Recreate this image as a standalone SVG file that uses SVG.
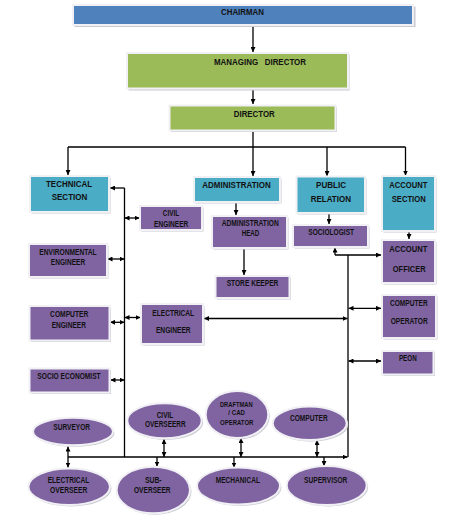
<svg xmlns="http://www.w3.org/2000/svg" width="471" height="521" viewBox="0 0 471 521">
<style>
.sh{fill:#c9c9d2}
.fr{stroke:#f1f1f5;stroke-width:2}
.bl{fill:#4f81bd}
.gr{fill:#9bbb59}
.tq{fill:#4bacc6}
.pu{fill:#8064a2}
text{font-family:"Liberation Sans Narrow","Liberation Sans",Arial,sans-serif;font-weight:bold;text-anchor:middle;fill:#111}
.L{font-size:9.3px}
.S{font-size:8.3px}
.c{fill:none;stroke:#000;stroke-width:1.3}
.a{marker-end:url(#ah)}
.d{marker-start:url(#ah);marker-end:url(#ah)}
</style>
<defs>
<marker id="ah" viewBox="0 0 6 6" refX="6" refY="3" markerWidth="5" markerHeight="5" orient="auto-start-reverse" markerUnits="userSpaceOnUse"><path d="M0,0 L6,3 L0,6z" fill="#000"/></marker>
</defs>
<rect width="471" height="521" fill="#fff"/>

<g id="connectors">
<path class="c a" d="M253,25 V52"/>
<path class="c a" d="M253,89 V104"/>
<path class="c" d="M253,130 V147 M68,147 H405.5"/>
<path class="c a" d="M68,147 V175"/>
<path class="c a" d="M253,147 V176"/>
<path class="c a" d="M327,147 V176"/>
<path class="c a" d="M405.5,147 V175.5"/>
<path class="c a" d="M236,203 V215"/>
<path class="c a" d="M244,248.5 V275"/>
<path class="c a" d="M329,213.5 V224"/>
<path class="c a" d="M409,231.5 V239"/>
<path class="c" d="M124.5,188 V457"/>
<path class="c a" d="M124.5,188 H110"/>
<path class="c d" d="M124.5,218 H139.5"/>
<path class="c d" d="M107.5,259 H124.5"/>
<path class="c d" d="M110,322.3 H124.5"/>
<path class="c d" d="M124.5,317.5 H140.5"/>
<path class="c d" d="M110.5,380 H124.5"/>
<path class="c a" d="M335,255 V247.5"/>
<path class="c a" d="M335,255 H381"/>
<path class="c" d="M348,255 V457"/>
<path class="c d" d="M204,318.5 H347.5"/>
<path class="c d" d="M348.5,308.3 H381"/>
<path class="c d" d="M348.5,361 H381"/>
<path class="c a" d="M68,457 H347.5"/>
<path class="c d" d="M68,446.5 V467.5"/>
<path class="c d" d="M164,439 V457"/>
<path class="c a" d="M157,457 V466.5"/>
<path class="c d" d="M241,438 V457"/>
<path class="c a" d="M234,457 V467.5"/>
<path class="c d" d="M317,440 V457"/>
<path class="c a" d="M324,457 V466"/>
</g>

<g id="chairman">
<rect class="sh" x="74.5" y="6.5" width="341" height="20.5"/>
<rect class="bl fr" x="73" y="5" width="340" height="20"/>
<text class="L" x="242.5" y="15" textLength="43" lengthAdjust="spacingAndGlyphs">CHAIRMAN</text>
</g>
<g id="managing-director">
<rect class="sh" x="128.5" y="54.5" width="221" height="36"/>
<rect class="gr fr" x="127" y="53" width="221" height="35.5"/>
<text class="L" x="260" y="65" textLength="92" lengthAdjust="spacingAndGlyphs">MANAGING&#160;&#160; DIRECTOR</text>
</g>
<g id="director">
<rect class="sh" x="171" y="107" width="166" height="25"/>
<rect class="gr fr" x="169.5" y="105.5" width="166" height="25"/>
<text class="L" x="254.3" y="117" textLength="41" lengthAdjust="spacingAndGlyphs">DIRECTOR</text>
</g>
<g id="technical-section">
<rect class="sh" x="31.5" y="177.5" width="79" height="36"/>
<rect class="tq fr" x="30" y="176" width="79" height="36"/>
<text class="L" x="69" y="187" textLength="46" lengthAdjust="spacingAndGlyphs">TECHNICAL</text>
<text class="L" x="69.5" y="200.3" textLength="35.7" lengthAdjust="spacingAndGlyphs">SECTION</text>
</g>
<g id="administration">
<rect class="sh" x="195.5" y="178.5" width="86" height="25"/>
<rect class="tq fr" x="194" y="177" width="86" height="25"/>
<text class="L" x="236.5" y="188.3" textLength="68.3" lengthAdjust="spacingAndGlyphs">ADMINISTRATION</text>
</g>
<g id="public-relation">
<rect class="sh" x="298" y="178" width="68.5" height="36.5"/>
<rect class="tq fr" x="296.5" y="176.5" width="68.5" height="36.5"/>
<text class="L" x="331" y="188.3" textLength="30" lengthAdjust="spacingAndGlyphs">PUBLIC</text>
<text class="L" x="330.8" y="201.7" textLength="40.3" lengthAdjust="spacingAndGlyphs">RELATION</text>
</g>
<g id="account-section">
<rect class="sh" x="383.5" y="177.5" width="53" height="55"/>
<rect class="tq fr" x="382" y="176" width="53" height="55"/>
<text class="L" x="408.3" y="188.3" textLength="38" lengthAdjust="spacingAndGlyphs">ACCOUNT</text>
<text class="L" x="408.7" y="202.3" textLength="34" lengthAdjust="spacingAndGlyphs">SECTION</text>
</g>
<g id="civil-engineer">
<rect class="sh" x="141.5" y="207.5" width="62" height="24"/>
<rect class="pu fr" x="140" y="206" width="62" height="24"/>
<text class="S" x="171" y="215.7" textLength="16.3" lengthAdjust="spacingAndGlyphs">CIVIL</text>
<text class="S" x="171.2" y="227" textLength="34.3" lengthAdjust="spacingAndGlyphs">ENGINEER</text>
</g>
<g id="administration-head">
<rect class="sh" x="213.5" y="217.5" width="75" height="32"/>
<rect class="pu fr" x="212" y="216" width="75" height="32"/>
<text class="S" x="250.2" y="226" textLength="57" lengthAdjust="spacingAndGlyphs">ADMINISTRATION</text>
<text class="S" x="250.5" y="235.7" textLength="17.7" lengthAdjust="spacingAndGlyphs">HEAD</text>
</g>
<g id="sociologist">
<rect class="sh" x="294.5" y="226.5" width="75" height="22"/>
<rect class="pu fr" x="293" y="225" width="75" height="22"/>
<text class="S" x="331.2" y="235" textLength="45.7" lengthAdjust="spacingAndGlyphs">SOCIOLOGIST</text>
</g>
<g id="account-officer">
<rect class="sh" x="383.5" y="241.5" width="53" height="43"/>
<rect class="pu fr" x="382" y="240" width="53" height="43"/>
<text class="L" x="408.3" y="251.7" textLength="38" lengthAdjust="spacingAndGlyphs">ACCOUNT</text>
<text class="L" x="409.2" y="272.3" textLength="33" lengthAdjust="spacingAndGlyphs">OFFICER</text>
</g>
<g id="environmental-engineer">
<rect class="sh" x="30.5" y="245.5" width="78" height="33"/>
<rect class="pu fr" x="29" y="244" width="78" height="33"/>
<text class="S" x="68" y="255" textLength="57.3" lengthAdjust="spacingAndGlyphs">ENVIRONMENTAL</text>
<text class="S" x="68" y="265.3" textLength="34.3" lengthAdjust="spacingAndGlyphs">ENGINEER</text>
</g>
<g id="store-keeper">
<rect class="sh" x="217" y="277.5" width="74" height="22"/>
<rect class="pu fr" x="215.5" y="276" width="74" height="22"/>
<text class="S" x="252.5" y="286" textLength="51.7" lengthAdjust="spacingAndGlyphs">STORE KEEPER</text>
</g>
<g id="computer-engineer">
<rect class="sh" x="31" y="307.5" width="80" height="34.5"/>
<rect class="pu fr" x="29.5" y="306" width="80" height="34.5"/>
<text class="S" x="69.2" y="317.3" textLength="38.3" lengthAdjust="spacingAndGlyphs">COMPUTER</text>
<text class="S" x="68.8" y="328.3" textLength="34.3" lengthAdjust="spacingAndGlyphs">ENGINEER</text>
</g>
<g id="electrical-engineer">
<rect class="sh" x="142.5" y="305.5" width="62" height="40"/>
<rect class="pu fr" x="141" y="304" width="62" height="40"/>
<text class="S" x="173.2" y="315.7" textLength="41.7" lengthAdjust="spacingAndGlyphs">ELECTRICAL</text>
<text class="S" x="173.3" y="333.3" textLength="34.7" lengthAdjust="spacingAndGlyphs">ENGINEER</text>
</g>
<g id="computer-operator">
<rect class="sh" x="383.5" y="296.5" width="54" height="43"/>
<rect class="pu fr" x="382" y="295" width="54" height="43"/>
<text class="S" x="408.8" y="305.7" textLength="37.7" lengthAdjust="spacingAndGlyphs">COMPUTER</text>
<text class="S" x="409.2" y="324.3" textLength="37" lengthAdjust="spacingAndGlyphs">OPERATOR</text>
</g>
<g id="peon">
<rect class="sh" x="383.5" y="352.5" width="51.5" height="23.5"/>
<rect class="pu fr" x="382" y="351" width="51.5" height="23.5"/>
<text class="S" x="407.8" y="361.3" textLength="17.7" lengthAdjust="spacingAndGlyphs">PEON</text>
</g>
<g id="socio-economist">
<rect class="sh" x="31" y="370" width="80" height="24"/>
<rect class="pu fr" x="29.5" y="368.5" width="80" height="24"/>
<text class="S" x="69" y="379.3" textLength="63.3" lengthAdjust="spacingAndGlyphs">SOCIO ECONOMIST</text>
</g>
<g id="surveyor">
<ellipse class="sh" cx="74.5" cy="433" rx="40" ry="13.8"/>
<ellipse class="pu fr" cx="73" cy="431.5" rx="40" ry="13.8"/>
<text class="S" x="71.7" y="430" textLength="36.7" lengthAdjust="spacingAndGlyphs">SURVEYOR</text>
</g>
<g id="civil-overseerr">
<ellipse class="sh" cx="166" cy="422.3" rx="37.2" ry="17.5"/>
<ellipse class="pu fr" cx="164.5" cy="420.8" rx="37.2" ry="17.5"/>
<text class="S" x="165" y="417.7" textLength="16.7" lengthAdjust="spacingAndGlyphs">CIVIL</text>
<text class="S" x="165.3" y="427.3" textLength="40.7" lengthAdjust="spacingAndGlyphs">OVERSEERR</text>
</g>
<g id="draftman-cad-operator">
<ellipse class="sh" cx="238.5" cy="416" rx="31.3" ry="23.5"/>
<ellipse class="pu fr" cx="237" cy="414.5" rx="31.3" ry="23.5"/>
<text class="S" x="236.3" y="406.7" textLength="32.7" lengthAdjust="spacingAndGlyphs" style="font-size:7.8px">DRAFTMAN</text>
<text class="S" x="236.7" y="415.3" textLength="16.7" lengthAdjust="spacingAndGlyphs" style="font-size:7.8px">/ CAD</text>
<text class="S" x="236.7" y="425.3" textLength="33.3" lengthAdjust="spacingAndGlyphs" style="font-size:7.8px">OPERATOR</text>
</g>
<g id="computer">
<ellipse class="sh" cx="311.2" cy="424.8" rx="37" ry="16.7"/>
<ellipse class="pu fr" cx="309.7" cy="423.3" rx="37" ry="16.7"/>
<text class="S" x="308.8" y="420.7" textLength="37.7" lengthAdjust="spacingAndGlyphs">COMPUTER</text>
</g>
<g id="electrical-overseer">
<ellipse class="sh" cx="70.7" cy="488.2" rx="40.8" ry="18.3"/>
<ellipse class="pu fr" cx="69.2" cy="486.7" rx="40.8" ry="18.3"/>
<text class="S" x="68.5" y="482.7" textLength="41.7" lengthAdjust="spacingAndGlyphs">ELECTRICAL</text>
<text class="S" x="68.7" y="493.3" textLength="37.3" lengthAdjust="spacingAndGlyphs">OVERSEER</text>
</g>
<g id="sub-overseer">
<ellipse class="sh" cx="154.8" cy="491.5" rx="36.7" ry="23.3"/>
<ellipse class="pu fr" cx="153.3" cy="490" rx="36.7" ry="23.3"/>
<text class="S" x="153.3" y="483.3" textLength="16.7" lengthAdjust="spacingAndGlyphs">SUB-</text>
<text class="S" x="152.3" y="493.3" textLength="36.7" lengthAdjust="spacingAndGlyphs">OVERSEER</text>
</g>
<g id="mechanical">
<ellipse class="sh" cx="240" cy="487.5" rx="41.5" ry="18.5"/>
<ellipse class="pu fr" cx="238.5" cy="486" rx="41.5" ry="18.5"/>
<text class="S" x="237.8" y="483" textLength="44.3" lengthAdjust="spacingAndGlyphs">MECHANICAL</text>
</g>
<g id="supervisor">
<ellipse class="sh" cx="328.2" cy="487" rx="40" ry="19.5"/>
<ellipse class="pu fr" cx="326.7" cy="485.5" rx="40" ry="19.5"/>
<text class="S" x="325.7" y="482.7" textLength="43.3" lengthAdjust="spacingAndGlyphs">SUPERVISOR</text>
</g>
</svg>
